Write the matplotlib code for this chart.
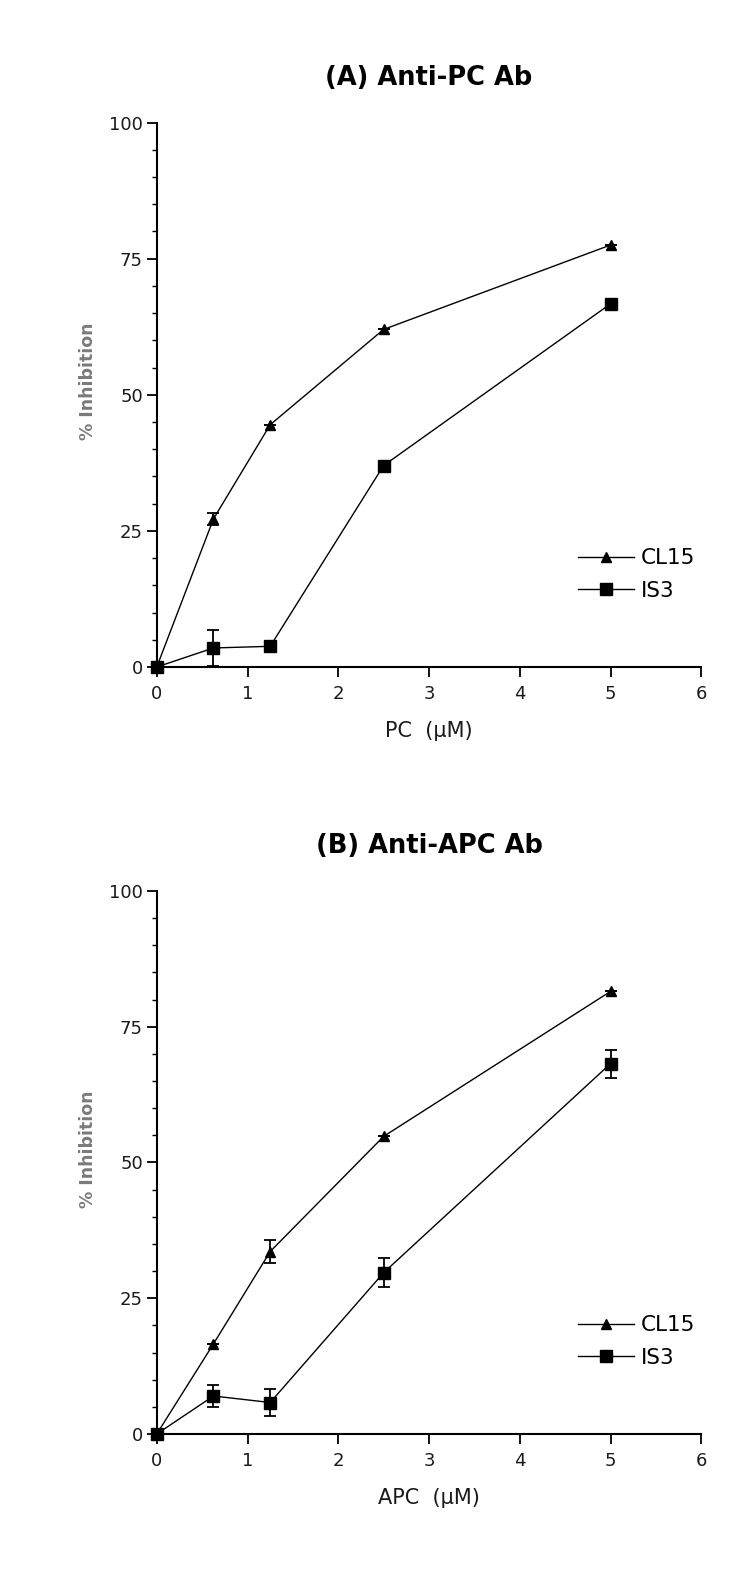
import numpy as np
import matplotlib
matplotlib.use("Agg")
import matplotlib.pyplot as plt
from matplotlib.ticker import MultipleLocator

plt.rcParams['font.family'] = ['DejaVu Sans']

conc = [0, 0.625, 1.25, 2.5, 5]

# panel A - anti-PC
pc_cl15 = [0, 27.2, 44.5, 62.0, 77.5]
pc_cl15_err = [0, 1.1, 0, 0, 0]
pc_is3 = [0, 3.5, 3.8, 37.0, 66.7]
pc_is3_err = [0, 3.3, 0, 0, 0]

# panel B - anti-APC
apc_cl15 = [0, 16.6, 33.6, 54.8, 81.5]
apc_cl15_err = [0, 0, 2.2, 0, 0]
apc_is3 = [0, 7.0, 5.8, 29.7, 68.2]
apc_is3_err = [0, 2.1, 2.4, 2.7, 2.6]

titles = ["(A) Anti-PC Ab", "(B) Anti-APC Ab"]
xlabels = ["PC  (\u00b5M)", "APC  (\u00b5M)"]
series_names = ["CL15", "IS3"]

fig = plt.figure(figsize=(7.5, 15.87), dpi=100)
ax_a = fig.add_axes([0.209, 0.5797, 0.726, 0.3431])
ax_b = fig.add_axes([0.209, 0.0964, 0.726, 0.3422])

panels = [
    (ax_a, pc_cl15, pc_cl15_err, pc_is3, pc_is3_err),
    (ax_b, apc_cl15, apc_cl15_err, apc_is3, apc_is3_err),
]

for i, (ax, cl, cl_e, is3, is3_e) in enumerate(panels):
    e1 = ax.errorbar(conc, cl, yerr=cl_e, color='black', marker='^', markersize=7.5,
                     lw=1, elinewidth=1.3, capsize=4.5, capthick=1.3, clip_on=False,
                     zorder=3)
    e2 = ax.errorbar(conc, is3, yerr=is3_e, color='black', marker='s', markersize=8.5,
                     lw=1, elinewidth=1.3, capsize=4.5, capthick=1.3, clip_on=False,
                     zorder=3)
    ax.set_xlim(0, 6)
    ax.set_ylim(0, 100)
    ax.set_xticks(range(7))
    ax.set_yticks([0, 25, 50, 75, 100])
    ax.yaxis.set_minor_locator(MultipleLocator(5))
    for s in ['top', 'right']:
        ax.spines[s].set_visible(False)
    ax.spines['left'].set_linewidth(1.5)
    ax.spines['bottom'].set_linewidth(1.5)
    ax.tick_params(axis='both', which='major', length=7, width=1.3,
                   labelsize=13, colors='black', labelcolor='#1a1a1a')
    ax.tick_params(axis='y', which='minor', length=3.5, width=1.0)
    ax.tick_params(axis='x', pad=6)
    ax.tick_params(axis='y', pad=3)
    ax.set_title(titles[i], fontsize=18.5, fontweight='bold', pad=27)
    ax.set_xlabel(xlabels[i], fontsize=15, labelpad=13, color='#1a1a1a')
    ax.set_ylabel("% Inhibition", fontsize=12.5, color='#7a7a7a',
                  fontweight='bold')
    ax.yaxis.set_label_coords(-0.11, 0.525)
    ax.legend(handles=[e1[0], e2[0]], labels=series_names,
              loc='center left', bbox_to_anchor=(0.738, 0.17), frameon=False,
              fontsize=15.5, handlelength=2.6, handletextpad=0.33,
              labelspacing=0.58)

fig.savefig("out.png", dpi=100)
